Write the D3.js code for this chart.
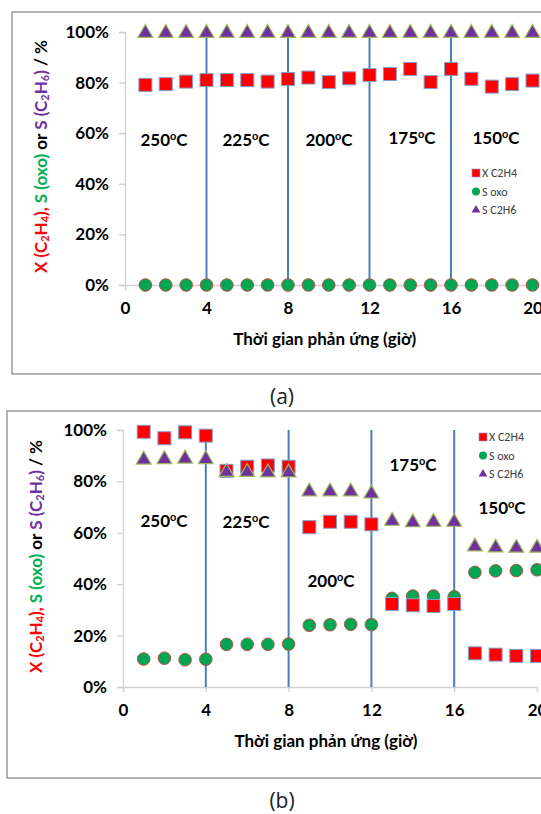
<!DOCTYPE html>
<html>
<head>
<meta charset="utf-8">
<script src="https://cdn.jsdelivr.net/npm/d3@7"></script>
<style>
  body { margin: 0; background: #fff; }
  svg { display: block; font-family: Lato, "Open Sans", sans-serif; }
</style>
</head>
<body>
<div id="chart"></div>
<script>
// Data: reaction time (h) and percentages
let hours = d3.range(1, 21);
let xTicks = [0, 4, 8, 12, 16, 20];
let yTicks = [0, 20, 40, 60, 80, 100];
let dividers = [4, 8, 12, 16];
let tempLabels = ["250", "225", "200", "175", "150"];
let seriesNames = ["X C2H4", "S oxo", "S C2H6"];

// panel (a)
let xC2H4a = [79.1, 79.4, 80.4, 81, 81, 81, 80.4, 81.4, 82, 80.2, 81.7, 83, 83.4, 85.4, 80.2, 85.4, 81.5, 78.4, 79.4, 80.8];
let sOxoa  = [0, 0, 0, 0, 0, 0, 0, 0, 0, 0, 0, 0, 0, 0, 0, 0, 0, 0, 0, 0];
let sC2H6a = [100, 100, 100, 100, 100, 100, 100, 100, 100, 100, 100, 100, 100, 100, 100, 100, 100, 100, 100, 100];

// panel (b)
let xC2H4b = [99.3, 96.8, 99.1, 97.8, 84.1, 85.7, 86.2, 85.7, 62.2, 64.3, 64.3, 63.3, 32.3, 31.8, 31.5, 32.3, 13.1, 12.6, 12.1, 12.1];
let sOxob  = [10.9, 11.2, 10.6, 10.8, 16.6, 16.6, 16.6, 16.7, 24, 24.2, 24.4, 24.3, 34.5, 35.4, 35.4, 35.1, 44.6, 45.2, 45.3, 45.6];
let sC2H6b = [88.8, 89, 89.2, 89, 84, 84, 83.8, 83.8, 76.4, 76.4, 76.4, 75.6, 65, 64.4, 64.6, 64.6, 55, 54.6, 54.5, 54.5];

let W = 541, H = 814;
let svg = d3.select("#chart").append("svg")
  .attr("width", W)
  .attr("height", H);

let colors = {
  sq: "#ff0000", sqStroke: "#7f9fd0",
  ci: "#00a651", ciStroke: "#c0504d",
  tr: "#7030a0", trStroke: "#9bbb59",
  div: "#4a7ebb", axis: "#d0d0d0"
};

let triangle = d3.symbol().type(d3.symbolTriangle).size(95);
var prevSub = false;

drawPanel({
  box: [12, 12, 560, 374], left: 125, top: 32, bottom: 285, right: 532.5,
  sq: xC2H4a, ci: sOxoa, tr: sC2H6a, titleX: 40, caption: "(a)", captionY: 404,
  temps: [[164, 146], [246, 146], [329, 146], [412, 144], [496, 144]],
  legend: [476, 173, 18.5]
});

drawPanel({
  box: [7, 411, 560, 778], left: 123, top: 430, bottom: 687, right: 537,
  sq: xC2H4b, ci: sOxob, tr: sC2H6b, titleX: 35, caption: "(b)", captionY: 808,
  temps: [[164, 527], [246, 528], [331, 587], [413, 471], [502, 514]],
  legend: [483, 437, 18.5]
});

function drawPanel(p) {
  svg.append("rect")
    .attr("x", p.box[0]).attr("y", p.box[1])
    .attr("width", p.box[2] - p.box[0]).attr("height", p.box[3] - p.box[1])
    .attr("fill", "none").attr("stroke", "#8c8c8c").attr("stroke-width", 1.3);

  let x = d3.scaleLinear().domain([0, 20]).range([p.left, p.right]);
  let y = d3.scaleLinear().domain([0, 100]).range([p.bottom, p.top]);

  let g = svg.append("g");

  // y axis
  let yAxis = g.append("g")
    .attr("transform", `translate(${p.left},0)`)
    .call(d3.axisLeft(y).tickValues(yTicks).tickSize(6).tickPadding(10).tickFormat(d => d + "%"));
  // x axis
  let xAxis = g.append("g")
    .attr("transform", `translate(0,${p.bottom})`)
    .call(d3.axisBottom(x).tickValues(xTicks).tickSize(5).tickPadding(12));

  [yAxis, xAxis].forEach(a => {
    a.select(".domain").attr("stroke", colors.axis).attr("stroke-width", 1.3);
    a.selectAll(".tick line").attr("stroke", colors.axis).attr("stroke-width", 1.3);
    a.selectAll("text").attr("fill", "#000").attr("font-size", 17).attr("font-weight", "bold")
      .attr("font-family", "Lato, sans-serif");
  });

  // axis titles
  g.append("text")
    .attr("x", (p.left + p.right) / 2 - 4).attr("y", p.bottom + 60)
    .attr("text-anchor", "middle").attr("font-size", 17).attr("font-weight", "bold")
    .text("Thời gian phản ứng (giờ)");

  let yt = g.append("text")
    .attr("transform", `translate(${p.titleX},${(p.top + p.bottom) / 2 - 2}) rotate(-90)`)
    .attr("text-anchor", "middle").attr("dominant-baseline", "central")
    .attr("font-size", 17).attr("font-weight", "bold");
  let parts = [
    ["X (C", "#ff0000"], ["2", "#ff0000", "sub"], ["H", "#ff0000"], ["4", "#ff0000", "sub"], ["), ", "#ff0000"],
    ["S (oxo) ", "#00b050"], ["or ", "#000"],
    ["S (C", "#7030a0"], ["2", "#7030a0", "sub"], ["H", "#7030a0"], ["6", "#7030a0", "sub"], [") ", "#7030a0"],
    ["/ %", "#000"]
  ];
  prevSub = false;
  parts.forEach(t => {
    let ts = yt.append("tspan").attr("fill", t[1]).text(t[0]);
    if (t[2] === "sub") ts.attr("font-size", 11).attr("dy", 4);
    else ts.attr("dy", prevSub ? -4 : 0);
    prevSub = t[2] === "sub";
  });

  // dividing lines
  g.selectAll(".div").data(dividers).enter().append("line")
    .attr("x1", d => x(d)).attr("x2", d => x(d))
    .attr("y1", y(100)).attr("y2", y(0))
    .attr("stroke", colors.div).attr("stroke-width", 2);

  // temperature labels
  let tl = g.selectAll(".temp").data(tempLabels).enter().append("text")
    .attr("x", (d, i) => p.temps[i][0]).attr("y", (d, i) => p.temps[i][1])
    .attr("text-anchor", "middle").attr("font-size", 17).attr("font-weight", "bold");
  tl.append("tspan").text(d => d);
  tl.append("tspan").attr("font-size", 11).attr("dy", -6).text("o");
  tl.append("tspan").attr("dy", 6).text("C");

  // markers
  g.selectAll(".ci").data(p.ci).enter().append("circle")
    .attr("cx", (d, i) => x(hours[i])).attr("cy", d => y(d)).attr("r", 6.3)
    .attr("fill", colors.ci).attr("stroke", colors.ciStroke).attr("stroke-width", 1);
  g.selectAll(".sq").data(p.sq).enter().append("rect")
    .attr("x", (d, i) => x(hours[i]) - 6.5).attr("y", d => y(d) - 6.5)
    .attr("width", 13).attr("height", 13)
    .attr("fill", colors.sq).attr("stroke", colors.sqStroke).attr("stroke-width", 1);
  g.selectAll(".tr").data(p.tr).enter().append("path")
    .attr("d", triangle)
    .attr("transform", (d, i) => `translate(${x(hours[i])},${y(d) + 1})`)
    .attr("fill", colors.tr).attr("stroke", colors.trStroke).attr("stroke-width", 1.2);

  // legend
  let lg = g.append("g").attr("transform", `translate(${p.legend[0]},${p.legend[1]})`);
  seriesNames.forEach((name, i) => {
    let row = lg.append("g").attr("transform", `translate(0,${i * p.legend[2]})`);
    if (i === 0) row.append("rect").attr("x", -4).attr("y", -4).attr("width", 8).attr("height", 8)
      .attr("fill", colors.sq).attr("stroke", colors.sqStroke).attr("stroke-width", 0.6);
    if (i === 1) row.append("circle").attr("r", 4).attr("fill", colors.ci);
    if (i === 2) row.append("path").attr("d", d3.symbol().type(d3.symbolTriangle).size(34)).attr("fill", colors.tr);
    row.append("text").attr("x", 6).attr("dy", "0.35em")
      .attr("font-size", 12).attr("fill", "#404040").attr("font-family", "Calibri, Carlito, 'Open Sans', sans-serif")
      .text(name);
  });

  // caption
  svg.append("text")
    .attr("x", 282).attr("y", p.captionY)
    .attr("text-anchor", "middle").attr("font-size", 21).attr("fill", "#222")
    .attr("font-family", "'Open Sans', sans-serif")
    .text(p.caption);
}
</script>
</body>
</html>
